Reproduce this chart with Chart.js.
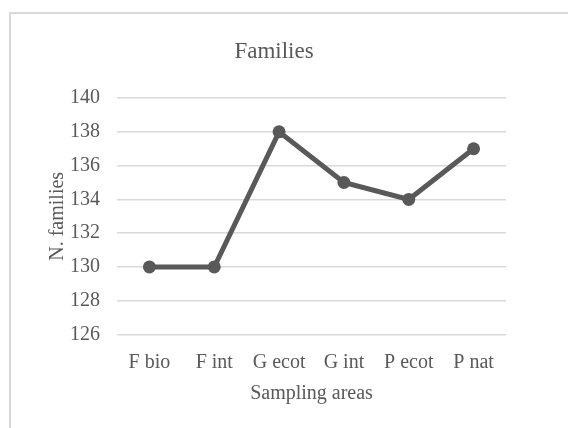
<!DOCTYPE html>
<html>
<head>
<meta charset="utf-8">
<script src="https://cdn.jsdelivr.net/npm/chart.js@4"></script>
<style>
  html, body { margin: 0; padding: 0; background: #fff; }
  #wrap { position: relative; width: 568px; height: 428px; overflow: hidden; }
  #frame { position: absolute; left: 9px; top: 12px; width: 600px; height: 460px; border: 2px solid #d9d9d9; box-sizing: border-box; }
  canvas { position: absolute; left: 0; top: 0; }
</style>
</head>
<body>
<div id="wrap">
  <div id="frame"></div>
  <canvas id="chart" width="568" height="428"></canvas>
</div>
<script>
const areas = ['F bio', 'F int', 'G ecot', 'G int', 'P ecot', 'P nat']
const families = [130, 130, 138, 135, 134, 137]
const yMin = 126
const yMax = 140
const yStep = 2

const grey = '#595959'
const serif = "'Liberation Serif', 'Times New Roman', serif"

new Chart(document.getElementById('chart'), {
  type: 'line',
  data: {
    labels: areas,
    datasets: [{
      label: 'Families',
      data: families,
      borderColor: grey,
      backgroundColor: grey,
      borderWidth: 5,
      pointRadius: 6.5,
      pointBackgroundColor: grey,
      pointBorderWidth: 0,
      tension: 0
    }]
  },
  options: {
    responsive: false,
    animation: false,
    layout: { padding: { left: 42, right: 62, top: 0, bottom: 10 } },
    plugins: {
      legend: { display: false },
      tooltip: { enabled: false },
      title: {
        display: true,
        text: 'Families',
        color: grey,
        font: { family: serif, size: 23, weight: 'normal' },
        padding: { top: 38, bottom: 32.5 }
      }
    },
    scales: {
      x: {
        offset: true,
        grid: { display: false },
        border: { display: false },
        ticks: { color: grey, font: { family: serif, size: 20 }, padding: 8, maxRotation: 0 },
        title: { display: true, text: 'Sampling areas', color: grey, font: { family: serif, size: 20 }, padding: { top: 0, bottom: 12 } },
        afterFit: (scale) => { scale.height = 83.5 }
      },
      y: {
        min: yMin,
        max: yMax,
        grid: { color: '#d9d9d9', lineWidth: 1.5, drawTicks: false },
        border: { display: false },
        ticks: { stepSize: yStep, color: grey, font: { family: serif, size: 20 }, padding: 17 },
        title: { display: true, text: 'N. families', color: grey, font: { family: serif, size: 20 }, padding: { top: 4, bottom: 4 } },
        afterFit: (scale) => { scale.width = 75 }
      }
    }
  }
})
</script>
</body>
</html>
